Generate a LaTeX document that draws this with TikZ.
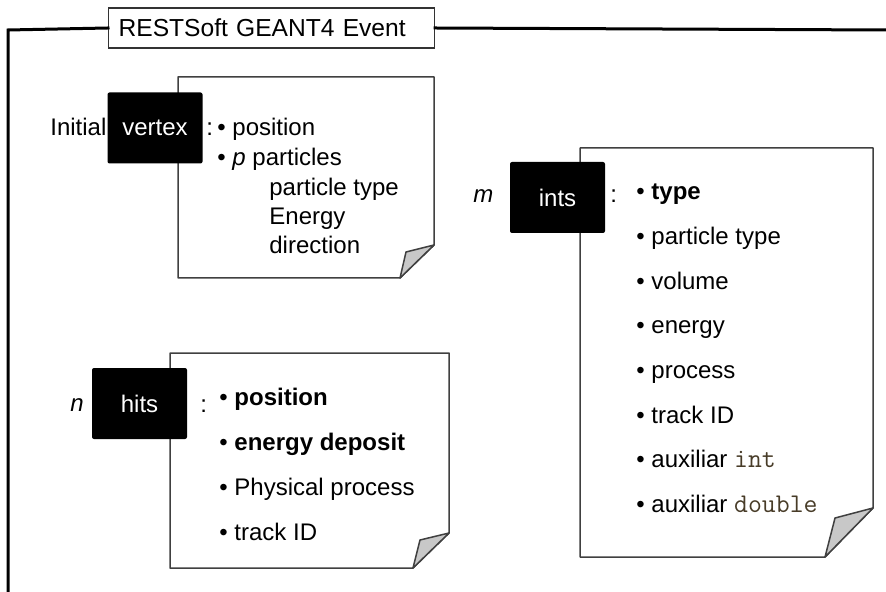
\documentclass[tikz,border=0pt]{standalone}
\usepackage{fontspec}
\setmainfont{Liberation Sans}
\definecolor{codebrown}{RGB}{72,60,40}
\definecolor{foldgray}{RGB}{200,200,200}
\newcommand{\codeword}[1]{\textcolor{codebrown}{\fontsize{13.5}{14}\selectfont\texttt{#1}}}
\tikzset{
  frame/.style={line width=1.5pt, line cap=rect},
  notepage/.style={draw=black!75, line width=0.75pt, fill=white, line join=round},
  foldcorner/.style={draw=black!75, line width=0.75pt, fill=foldgray, line join=round},
  tagbox/.style={fill=black, text=white, rounded corners=1pt, minimum width=47.5pt, minimum height=35.5pt, inner sep=0pt},
  item/.style={anchor=base west, inner sep=0pt},
}
\begin{document}
\begin{tikzpicture}[x=0.5pt, y=-0.5pt, every node/.style={font=\fontsize{12}{14}\selectfont}]

\useasboundingbox (0,0) rectangle (886,592);

% =============================================
% MARCO: evento
% =============================================
\node[draw=black!80, line width=0.6pt, fill=white, anchor=west, text width=153pt, align=left, inner xsep=5pt, minimum height=20pt, inner ysep=0pt, font=\fontsize{12.3}{14}\selectfont] (title) at (108,28) {RESTSoft GEANT4 Event};
\draw[frame] (title.west) -- (8,30) -- (8,592);
\draw[frame] (title.east) -- (886,30);

% =============================================
% HOJAS (con esquina doblada)
% =============================================
% Hoja del vertice
\draw[notepage] (178,77) -- (434,77) -- (434,245) -- (400,278) -- (178,278) -- cycle;
\draw[foldcorner] (434,245) -- (406,252) -- (400,278) -- cycle;

% Hoja de las interacciones
\draw[notepage] (580,148) -- (873,148) -- (873,508) -- (825,557) -- (580,557) -- cycle;
\draw[foldcorner] (873,508) -- (835,518) -- (825,557) -- cycle;

% Hoja de los hits
\draw[notepage] (170,353) -- (449,353) -- (449,533) -- (413,568) -- (170,568) -- cycle;
\draw[foldcorner] (449,533) -- (420,540) -- (413,568) -- cycle;

% =============================================
% VERTICE INICIAL
% =============================================
\node[tagbox] (vertex) at (155,128) {vertex};
\node[item] (vinit) at (50,136) {Initial};
\node[item] (vcolon) at (206,136) {:};
\node[item] (v-1) at (217,136) {\textbullet\ position};
\node[item] (v-2) at (217,166) {\textbullet\ \textit{p} particles};
\node[item] (v-3) at (269,196) {particle type};
\node[item] (v-4) at (269,225) {Energy};
\node[item] (v-5) at (269,254) {direction};

% =============================================
% INTERACCIONES
% =============================================
\node[tagbox] (ints) at (557.5,197.5) {ints};
\node[item] (mcount) at (473,203) {\textit{m}};
\node[item] (icolon) at (610,203) {:};
\foreach \txt [count=\i] in {{\textbf{type}}, {particle type}, {volume}, {energy}, {process}, {track ID}, {auxiliar \codeword{int}}, {auxiliar \codeword{double}}} {
    \node[item] (int-\i) at (636,{200+44.6*(\i-1)}) {\textbullet\ \txt};
}

% =============================================
% HITS
% =============================================
\node[tagbox] (hits) at (139.5,403.5) {hits};
\node[item] (ncount) at (70,411) {\textit{n}};
\node[item] (hcolon) at (200,412) {:};
\foreach \txt [count=\i] in {{\textbf{position}}, {\textbf{energy deposit}}, {Physical process}, {track ID}} {
    \node[item] (hit-\i) at (219,{405+45*(\i-1)}) {\textbullet\ \txt};
}

\end{tikzpicture}
\end{document}
